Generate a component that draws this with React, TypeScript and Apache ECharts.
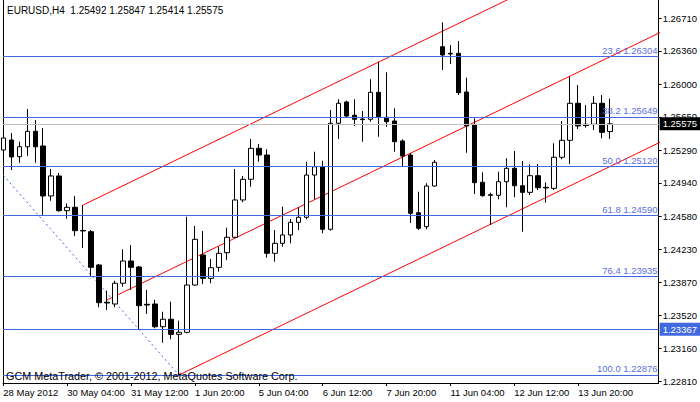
import React, { useEffect, useRef } from "react";
import * as echarts from "echarts";

const symbolTitle = "EURUSD,H4";
const footerText = "GCM MetaTrader, \u00a9 2001-2012, MetaQuotes Software Corp.";

// H4 bars, index 0 = 28 May 2012 20:00 ... index 76 = 14 Jun 2012 12:00
const opens = [
  1.25294, 1.25401, 1.25222, 1.25329, 1.25495, 1.25337, 1.248, 1.25015, 1.24642, 1.24678,
  1.24429, 1.24416, 1.24058, 1.23658, 1.23639, 1.23862, 1.24101, 1.24037, 1.23636, 1.23639,
  1.23395, 1.23475, 1.23313, 1.23335, 1.23843, 1.24166, 1.23915, 1.24033, 1.2419, 1.24356,
  1.24757, 1.24979, 1.25312, 1.2524, 1.24184, 1.24291, 1.24381, 1.24517, 1.24571, 1.25025,
  1.25114, 1.24442, 1.25581, 1.2581, 1.25667, 1.25627, 1.25624, 1.25914, 1.25645, 1.25606,
  1.25391, 1.2524, 1.2462, 1.2447, 1.24907, 1.26404, 1.26333, 1.26333, 1.25917, 1.25563,
  1.24947, 1.24813, 1.24807, 1.24953, 1.25097, 1.2491, 1.24839, 1.25018, 1.24893, 1.24882,
  1.25216, 1.25398, 1.25796, 1.2557, 1.2557, 1.25796, 1.25492,
];
const highs = [
  1.25444, 1.25477, 1.25383, 1.25735, 1.25616, 1.2553, 1.2509, 1.25047, 1.24721, 1.248,
  1.24703, 1.24434, 1.24069, 1.23782, 1.23889, 1.24227, 1.24273, 1.24047, 1.2379, 1.23682,
  1.23556, 1.23664, 1.2346, 1.24577, 1.24477, 1.24424, 1.24123, 1.24255, 1.24459, 1.2509,
  1.25015, 1.25412, 1.25358, 1.25301, 1.24434, 1.24685, 1.24552, 1.24678, 1.25168, 1.25276,
  1.25179, 1.25724, 1.25839, 1.25824, 1.25839, 1.25713, 1.26054, 1.26243, 1.26129, 1.25742,
  1.25409, 1.25262, 1.24846, 1.24936, 1.25186, 1.26666, 1.26422, 1.26465, 1.26071, 1.25635,
  1.25054, 1.24835, 1.25061, 1.25205, 1.25283, 1.25176, 1.2514, 1.25144, 1.24947, 1.25366,
  1.25606, 1.26084, 1.25992, 1.25778, 1.25872, 1.25885, 1.25847,
];
const lows = [
  1.25272, 1.25079, 1.25157, 1.25229, 1.25157, 1.24595, 1.24749, 1.24631, 1.24556, 1.2437,
  1.24241, 1.2394, 1.23604, 1.23575, 1.23604, 1.23825, 1.2379, 1.23367, 1.23532, 1.23378,
  1.23223, 1.2326, 1.22876, 1.23324, 1.23836, 1.23854, 1.23862, 1.23986, 1.24112, 1.24345,
  1.24732, 1.249, 1.25168, 1.24137, 1.24094, 1.24255, 1.24291, 1.24434, 1.24549, 1.24764,
  1.24399, 1.24427, 1.25412, 1.25645, 1.25552, 1.25383, 1.25598, 1.25437, 1.25544, 1.25276,
  1.25122, 1.24509, 1.24434, 1.24442, 1.249, 1.26154, 1.26218, 1.25885, 1.25265, 1.24821,
  1.24792, 1.24488, 1.24764, 1.24678, 1.24786, 1.24416, 1.2481, 1.24864, 1.24728, 1.24864,
  1.25194, 1.25144, 1.2552, 1.25534, 1.25509, 1.2542, 1.25414,
];
const closes = [
  1.25423, 1.25219, 1.25329, 1.25495, 1.25329, 1.248, 1.25015, 1.24642, 1.24678, 1.24427,
  1.24424, 1.24033, 1.23653, 1.2365, 1.23862, 1.24101, 1.24033, 1.23621, 1.23628, 1.23395,
  1.23475, 1.23313, 1.23335, 1.23843, 1.24334, 1.23915, 1.24029, 1.24184, 1.24356, 1.24757,
  1.24979, 1.25312, 1.2524, 1.24184, 1.24291, 1.24381, 1.24517, 1.24571, 1.25025, 1.25114,
  1.24442, 1.25581, 1.25796, 1.25659, 1.25624, 1.25621, 1.25914, 1.25652, 1.25598, 1.25383,
  1.25229, 1.24614, 1.24453, 1.24907, 1.25162, 1.26315, 1.26326, 1.2591, 1.25552, 1.24943,
  1.24803, 1.24807, 1.24953, 1.25097, 1.2491, 1.24839, 1.25018, 1.24889, 1.24886, 1.25216,
  1.25398, 1.25796, 1.25552, 1.25557, 1.25796, 1.25484, 1.25575,
];

const xTickIndex = [0, 8, 16, 24, 32, 40, 48, 56, 64, 72];
const xTickLabels = [
  "28 May 2012", "30 May 04:00", "31 May 12:00", "1 Jun 20:00", "5 Jun 04:00",
  "6 Jun 12:00", "7 Jun 20:00", "11 Jun 04:00", "12 Jun 12:00", "13 Jun 20:00",
];
const yTickValues = [
  1.2281, 1.2316, 1.2352, 1.2387, 1.2423, 1.2458, 1.2494, 1.2529, 1.2565, 1.26, 1.2636, 1.2671,
];

const fibRatios = ["23.6", "38.2", "50.0", "61.8", "76.4", "100.0"];
const fibPrices = [1.26304, 1.25649, 1.2512, 1.2459, 1.23935, 1.22876];
const fibTrendPoints = [
  [-24, 1.27363],
  [22, 1.22876],
];
const channelStarts = [
  [10, 1.24703],
  [13, 1.23682],
  [22, 1.22876],
];
const channelSlopePerBar = 0.000415;
const hLinePrice = 1.23367;
const bidPrice = 1.25575;

const FONT = "'Liberation Sans', Arial, sans-serif";
const FS = 9.5;
const FIB_BLUE = "#4169e1";

export default function App() {
  const ref = useRef<HTMLDivElement>(null);

  useEffect(() => {
    if (!ref.current) return;
    const chart = echarts.init(ref.current, undefined, { renderer: "svg" });
    const last = opens.length - 1;
    const candleData = opens.map((o, i) => [i, o, closes[i], lows[i], highs[i]]);
    const channelEnd = 84;
    const channelSeries = channelStarts.map(([i0, p0]) => ({
      type: "line",
      data: [
        [i0, p0],
        [channelEnd, p0 + channelSlopePerBar * (channelEnd - i0)],
      ],
      symbol: "none",
      silent: true,
      z: 2,
      lineStyle: { color: "#ff0000", width: 1 },
    }));

    const txt = { fontFamily: FONT, fontSize: FS, color: "#000" };

    const option: any = {
      animation: false,
      backgroundColor: "#ffffff",
      title: [
        {
          text: `${symbolTitle}  ${opens[last].toFixed(5)} ${highs[last].toFixed(5)} ${lows[last].toFixed(5)} ${closes[last].toFixed(5)}`,
          left: 7,
          top: 5,
          padding: 0,
          textStyle: { ...txt, fontSize: 10, fontWeight: "normal" },
        },
        {
          text: footerText,
          left: 6,
          top: 370,
          padding: 0,
          textStyle: { ...txt, fontSize: 10.8, fontWeight: "normal" },
        },
      ],
      grid: { left: 3, right: 40, top: 0, bottom: 19, containLabel: false },
      xAxis: {
        type: "value",
        min: -0.04,
        max: 82.085,
        axisLine: { show: true, onZero: false, lineStyle: { color: "#000", width: 1 } },
        axisTick: { show: true, customValues: xTickIndex, length: 3, lineStyle: { color: "#000" } },
        axisLabel: {
          customValues: xTickIndex,
          formatter: (v: number) => {
            const k = xTickIndex.indexOf(Math.round(v));
            return k >= 0 ? xTickLabels[k] : "";
          },
          align: "left",
          margin: 4,
          ...txt,
        },
        splitLine: { show: false },
      },
      yAxis: [
        {
          type: "value",
          position: "right",
          min: 1.2279,
          max: 1.26906,
          axisLine: { show: true, onZero: false, lineStyle: { color: "#000", width: 1 } },
          axisTick: { show: true, customValues: yTickValues, length: 3, lineStyle: { color: "#000" } },
          axisLabel: {
            customValues: yTickValues,
            formatter: (v: number) => v.toFixed(5),
            margin: 4,
            ...txt,
          },
          splitLine: { show: false },
        },
        {
          type: "value",
          position: "left",
          min: 1.2279,
          max: 1.26906,
          axisLine: { show: true, onZero: false, lineStyle: { color: "#000", width: 1 } },
          axisTick: { show: false },
          axisLabel: { show: false },
          splitLine: { show: false },
        },
      ],
      series: [
        {
          type: "line",
          data: fibTrendPoints,
          symbol: "none",
          silent: true,
          z: 2,
          lineStyle: { color: FIB_BLUE, width: 1, type: [2, 3] },
          markLine: {
            symbol: ["none", "none"],
            silent: true,
            animation: false,
            precision: 6,
            data: [
              ...fibPrices.map((p, k) => ({
                yAxis: p,
                lineStyle: { color: FIB_BLUE, width: 1, type: "solid" },
                label: {
                  show: true,
                  position: "insideEndTop",
                  formatter: `${fibRatios[k]} ${p.toFixed(5)}`,
                  fontFamily: FONT,
                  fontSize: FS,
                  color: "#5a70e2",
                  distance: 1,
                },
              })),
              {
                yAxis: hLinePrice,
                lineStyle: { color: FIB_BLUE, width: 1, type: "solid" },
                label: {
                  show: true,
                  position: "end",
                  formatter: hLinePrice.toFixed(5),
                  fontFamily: FONT,
                  fontSize: FS,
                  color: "#ffffff",
                  backgroundColor: FIB_BLUE,
                  padding: [2, 4, 1, 3],
                  distance: 1,
                },
              },
              {
                yAxis: bidPrice,
                lineStyle: { color: "#c0c0c0", width: 1, type: "solid" },
                label: {
                  show: true,
                  position: "end",
                  formatter: bidPrice.toFixed(5),
                  fontFamily: FONT,
                  fontSize: FS,
                  color: "#ffffff",
                  backgroundColor: "#000000",
                  padding: [2, 4, 1, 3],
                  distance: 1,
                },
              },
            ],
          },
        },
        ...channelSeries,
        {
          type: "candlestick",
          data: candleData,
          barWidth: 5,
          z: 3,
          silent: true,
          itemStyle: {
            color: "#ffffff",
            color0: "#000000",
            borderColor: "#000000",
            borderColor0: "#000000",
            borderWidth: 1,
          },
        },
      ],
    };
    chart.setOption(option);
    return () => chart.dispose();
  }, []);

  return (
    <div
      ref={ref}
      style={{ position: "fixed", left: 0, top: 0, width: 700, height: 402, background: "#fff" }}
    />
  );
}
